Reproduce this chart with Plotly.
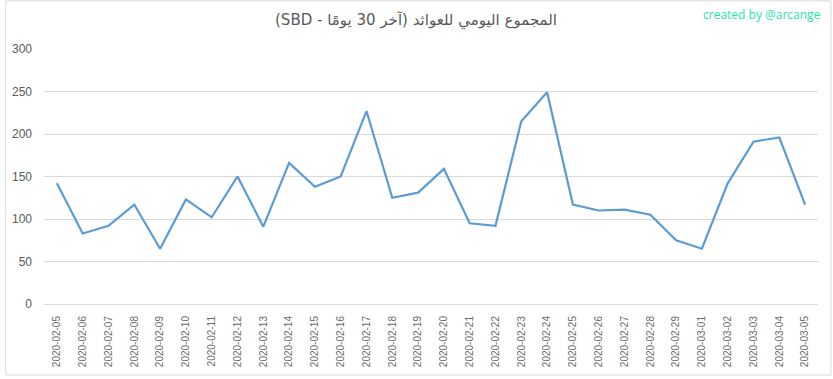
import plotly.graph_objects as go

dates = [
    "2020-02-05", "2020-02-06", "2020-02-07", "2020-02-08", "2020-02-09",
    "2020-02-10", "2020-02-11", "2020-02-12", "2020-02-13", "2020-02-14",
    "2020-02-15", "2020-02-16", "2020-02-17", "2020-02-18", "2020-02-19",
    "2020-02-20", "2020-02-21", "2020-02-22", "2020-02-23", "2020-02-24",
    "2020-02-25", "2020-02-26", "2020-02-27", "2020-02-28", "2020-02-29",
    "2020-03-01", "2020-03-02", "2020-03-03", "2020-03-04", "2020-03-05",
]
rewards = [
    142, 83, 92, 117, 65, 123, 102, 150, 91, 166,
    138, 150, 227, 125, 131, 159, 95, 92, 215, 249,
    117, 110, 111, 105, 75, 65, 142, 191, 196, 117,
]
y_ticks = [0, 50, 100, 150, 200, 250, 300]

title_text = "\u202bالمجموع اليومي للعوائد (آخر 30 يومًا - SBD)\u202c"

W, H = 833, 379
L, R, T, B = 39, 15, 49, 73
pw, ph = W - L - R, H - T - B

def px_to_paper_x(px):
    return (px - L) / pw

def px_to_paper_y(py):
    return (H - B - py) / ph

fig = go.Figure()
fig.add_trace(go.Scatter(
    x=dates, y=rewards, mode="lines",
    line=dict(color="#5b9bd5", width=2.2),
    hoverinfo="x+y",
))

fig.update_layout(
    width=W, height=H,
    margin=dict(l=L, r=R, t=T, b=B),
    paper_bgcolor="white", plot_bgcolor="white",
    showlegend=False,
    font=dict(family="Liberation Sans, Arial, sans-serif", color="#595959"),
    title=dict(
        text=title_text,
        x=416 / W, xref="container", xanchor="center",
        y=1 - 20 / H, yref="container", yanchor="middle",
        font=dict(family="DejaVu Sans, sans-serif", size=15, color="#595959"),
    ),
    xaxis=dict(
        type="category",
        range=[-0.5, len(dates) - 0.5],
        tickangle=-90,
        tickfont=dict(size=10, color="#6b6b6b"),
        showgrid=False,
        showline=False,
        zeroline=False,
        ticks="",
        ticklabelstandoff=9,
        fixedrange=True,
    ),
    yaxis=dict(
        range=[0, 300],
        tickvals=y_ticks,
        tickfont=dict(size=12, color="#595959"),
        gridcolor="#d9d9d9",
        gridwidth=1,
        zeroline=True,
        zerolinecolor="#d9d9d9",
        zerolinewidth=1,
        showline=False,
        ticks="",
        ticklabelstandoff=11,
        fixedrange=True,
    ),
    annotations=[dict(
        text="created by @arcange",
        xref="paper", yref="paper",
        x=px_to_paper_x(823), y=px_to_paper_y(14),
        xanchor="right", yanchor="middle",
        showarrow=False,
        font=dict(family="Open Sans, sans-serif", size=12, color="#1de9a6"),
    )],
    shapes=[dict(
        type="rect", xref="paper", yref="paper",
        x0=px_to_paper_x(0.5), x1=px_to_paper_x(831),
        y0=px_to_paper_y(377.5), y1=px_to_paper_y(0.5),
        line=dict(color="#d9d9d9", width=1),
        fillcolor="rgba(0,0,0,0)",
        layer="below",
    )],
)

fig.write_html("out.html", config={"displayModeBar": False})
